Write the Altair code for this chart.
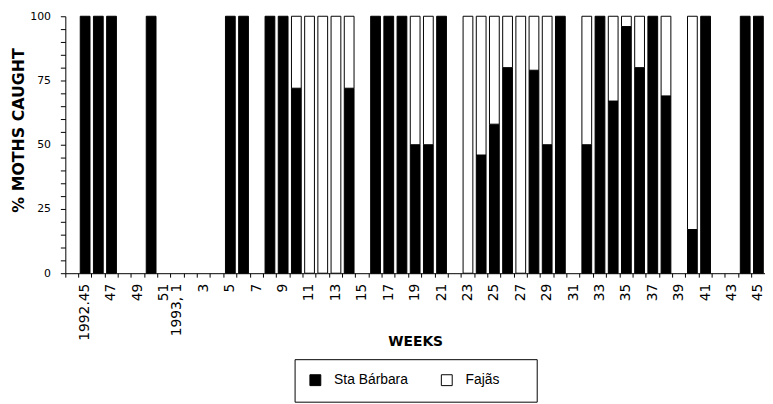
import json
import altair as alt
import pandas as pd

# Week categories (1992 weeks 45-51, then 1993 weeks 1-45)
weeks = ["1992.45", "46", "47", "48", "49", "50", "51",
         "1993, 1", "2", "3", "4", "5", "6", "7", "8", "9", "10",
         "11", "12", "13", "14", "15", "16", "17", "18", "19", "20",
         "21", "22", "23", "24", "25", "26", "27", "28", "29", "30",
         "31", "32", "33", "34", "35", "36", "37", "38", "39", "40",
         "41", "42", "43", "44", "45"]

# % of moths caught at each site (None = no catch that week)
sta_barbara = [100, 100, 100, None, None, 100, None,
               None, None, None, None, 100, 100, None, 100, 100, 72,
               0, 0, 0, 72, None, 100, 100, 100, 50, 50,
               100, None, 0, 46, 58, 80, 0, 79, 50, 100,
               None, 50, 100, 67, 96, 80, 100, 69, None, 17,
               100, None, None, 100, 100]
fajas = [0, 0, 0, None, None, 0, None,
         None, None, None, None, 0, 0, None, 0, 0, 28,
         100, 100, 100, 28, None, 0, 0, 0, 50, 50,
         0, None, 100, 54, 42, 20, 100, 21, 50, 0,
         None, 50, 0, 33, 4, 20, 0, 31, None, 83,
         0, None, None, 0, 0]

tick_labels = ["1992.45", "47", "49", "51", "1993, 1", "3", "5", "7", "9",
               "11", "13", "15", "17", "19", "21", "23", "25", "27", "29",
               "31", "33", "35", "37", "39", "41", "43", "45"]
series = ["Sta Bárbara", "Fajãs"]
colors = ["#000000", "#ffffff"]
y_tick_values = [0, 5, 10, 15, 20, 25, 30, 35, 40, 45, 50, 55, 60, 65, 70,
                 75, 80, 85, 90, 95, 100]

pad = " "
domain = [pad] + weeks

rows = []
for w, sb, fj in zip(weeks, sta_barbara, fajas):
    for k, (name, v) in enumerate(zip(series, (sb, fj))):
        if v:
            rows.append({"week": w, "series": name, "pct": v, "order": k})
df = pd.DataFrame(rows)

x_label_expr = ("indexof(" + json.dumps(tick_labels) +
                ", datum.value) >= 0 ? datum.value : ''")
y_label_expr = "datum.value % 25 === 0 ? datum.label : ''"
# widen the legend box (invisible trailing room after the second entry)
legend_label_expr = ("indexof(datum.label, 'Faj') == 0 ? datum.label + "
                     "'\u00a0\u00a0\u00a0\u00a0\u00a0\u00a0\u200b' : datum.label")

chart = alt.Chart(df).mark_bar(
    stroke="black", strokeWidth=1, width=alt.RelativeBandSize(0.74)
).encode(
    x=alt.X("week:N", sort=domain,
            scale=alt.Scale(domain=domain, paddingInner=0, paddingOuter=0),
            axis=alt.Axis(title="WEEKS", labelAngle=-90, labelAlign="right",
                          labelBaseline="middle", bandPosition=0,
                          labelExpr=x_label_expr, labelOverlap=False,
                          tickSize=4, labelPadding=6, titleY=62,
                          domainColor="black", tickColor="black",
                          labelColor="black", titleColor="black",
                          labelFont="DejaVu Sans", labelFontSize=14,
                          titleFont="DejaVu Sans", titleFontSize=14,
                          titleFontWeight="bold", grid=False)),
    y=alt.Y("pct:Q", stack="zero",
            scale=alt.Scale(domain=[0, 100], nice=False),
            axis=alt.Axis(title="% MOTHS CAUGHT", values=y_tick_values,
                          labelExpr=y_label_expr, tickSize=5, labelPadding=10,
                          titlePadding=3, titleY=115, grid=False,
                          domainColor="black",
                          tickColor="black", labelColor="black",
                          titleColor="black", labelFont="DejaVu Sans",
                          labelFontSize=11, titleFont="DejaVu Sans",
                          titleFontSize=16, titleFontWeight="bold")),
    color=alt.Color("series:N", sort=series,
                    scale=alt.Scale(domain=series, range=colors),
                    legend=alt.Legend(title=None, orient="none", legendX=232,
                                      legendY=347, direction="horizontal",
                                      symbolType="square", symbolSize=121,
                                      symbolStrokeColor="black",
                                      symbolStrokeWidth=1,
                                      labelFont="Liberation Sans",
                                      labelFontSize=14, labelColor="black",
                                      labelOffset=12, columnPadding=31,
                                      labelExpr=legend_label_expr,
                                      padding=14, strokeColor="black",
                                      gridAlign="each")),
    order=alt.Order("order:Q"),
).properties(
    width=708, height=260,
    padding={"left": 3, "top": 0, "right": 0, "bottom": 0},
).configure_view(stroke=None)

chart.save("out.html", embed_options={"renderer": "svg", "actions": False})
